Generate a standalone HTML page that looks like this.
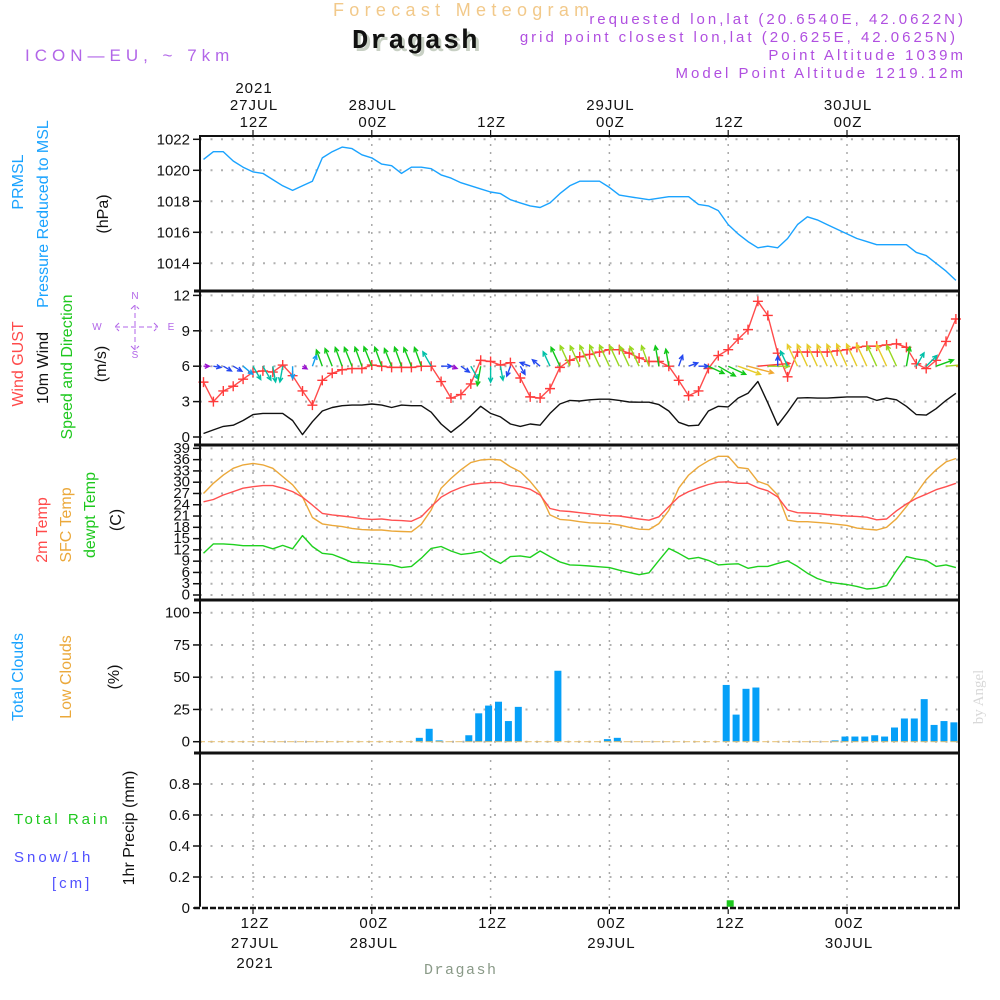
<!DOCTYPE html>
<html><head><meta charset="utf-8">
<style>
html,body{margin:0;padding:0;background:#fff;}
svg{display:block;font-family:"Liberation Sans",sans-serif;}
.tk{font-size:15px;fill:#111;}
</style></head>
<body>
<svg id="chart" width="1000" height="1000" viewBox="0 0 1000 1000" xmlns="http://www.w3.org/2000/svg">
<defs><clipPath id="plotclip"><rect x="200" y="292" width="759" height="152"/></clipPath></defs>
<rect x="0" y="0" width="1000" height="1000" fill="#fff"/>
<text x="333" y="16" font-size="18" fill="#f2c98a" letter-spacing="5.3">Forecast Meteogram</text>
<text x="355" y="51" font-family="Liberation Mono, monospace" font-weight="bold" font-size="27" fill="#c8d0c4" letter-spacing="2">Dragash</text>
<text x="352" y="48" font-family="Liberation Mono, monospace" font-weight="bold" font-size="27" fill="#111" letter-spacing="2">Dragash</text>
<text x="25" y="61" font-size="17" fill="#b266e8" letter-spacing="5">ICON—EU,  ~  7km</text>
<g font-size="15" fill="#b04fe0" text-anchor="end" letter-spacing="3">
<text x="966" y="24">requested lon,lat (20.6540E, 42.0622N)</text>
<text x="958" y="42">grid point closest lon,lat (20.625E, 42.0625N)</text>
<text x="966" y="60">Point Altitude 1039m</text>
<text x="966" y="78">Model Point Altitude 1219.12m</text>
</g>
<g id="grid"></g>
<g id="marks"></g>
<g id="arrows" clip-path="url(#plotclip)"></g>
<g id="frame"></g>
<g id="labels"></g>
</svg>
<script>
// ---- data (hourly from 07Z 27JUL; hour index = hours since 00Z 27JUL) ----
const startHour = 7;
const pressure = [1020.7,1021.2,1021.2,1020.6,1020.2,1019.9,1019.8,1019.4,1019.0,1018.7,1019.0,1019.3,
 1020.8,1021.2,1021.5,1021.4,1021.0,1020.8,1020.4,1020.3,1019.8,1020.2,1020.2,1020.1,
 1019.7,1019.5,1019.2,1019.0,1018.8,1018.6,1018.5,1018.1,1017.9,1017.7,1017.6,1017.9,
 1018.5,1019.0,1019.3,1019.3,1019.3,1018.9,1018.4,1018.3,1018.2,1018.1,1018.2,1018.3,
 1018.3,1018.3,1017.8,1017.7,1017.4,1016.5,1015.9,1015.4,1015.0,1015.1,1015.0,1015.6,
 1016.5,1017.0,1016.8,1016.5,1016.2,1015.9,1015.6,1015.4,1015.2,1015.2,1015.2,1015.2,
 1014.7,1014.5,1014.0,1013.5,1012.9];
const gust = [4.65,3.0,3.9,4.3,4.9,5.5,5.6,5.5,6.1,5.2,3.9,2.7,
 4.8,5.4,5.7,5.8,5.8,6.1,6.0,5.9,5.9,5.9,6.0,6.0,
 4.7,3.3,3.6,4.5,6.5,6.4,6.1,6.3,5.0,3.4,3.3,4.1,
 5.9,6.5,6.8,7.0,7.2,7.4,7.4,7.1,6.7,6.4,6.4,6.0,
 4.8,3.5,3.9,5.8,6.9,7.4,8.3,9.1,11.5,10.3,7.1,5.1,
 7.2,7.2,7.2,7.2,7.3,7.4,7.6,7.7,7.7,7.8,7.9,7.6,
 6.2,5.8,6.5,8.1,10.0];
const wind10m = [0.3,0.6,0.9,1.0,1.4,1.9,2.0,2.0,2.0,1.4,0.2,1.3,
 2.2,2.5,2.65,2.7,2.7,2.8,2.7,2.5,2.7,2.65,2.65,2.1,
 1.1,0.4,1.05,1.8,2.6,2.0,1.7,1.1,0.9,1.1,1.0,2.0,
 2.8,3.1,3.05,3.15,3.2,3.2,3.1,2.97,2.95,2.95,2.75,2.2,
 1.25,0.95,1.0,2.2,2.6,2.55,3.3,3.7,4.7,2.9,1.0,2.1,
 3.3,3.33,3.3,3.3,3.35,3.4,3.4,3.4,3.1,3.3,3.15,2.6,
 1.9,1.86,2.4,3.1,3.7];
const windDir = [0,-10,-30,-30,-40,-60,-60,-80,-100,-90,-30,70,
 110,112,110,112,110,112,110,112,110,112,110,120,
 0,-20,-35,-60,-100,-90,-80,-110,-60,160,140,115,
 115,115,115,115,115,115,115,115,115,110,100,100,
 70,20,0,-25,-30,-25,-20,-15,5,0,90,115,
 115,115,115,115,115,115,115,115,115,115,115,80,
 60,45,20,5,5];
const temp2m = [24.8,25.4,26.6,27.5,28.4,28.8,29.1,29.1,28.4,27.5,26.0,23.9,
 21.7,21.3,21.0,20.7,20.3,20.1,20.2,19.9,19.8,19.6,20.8,23.5,
 26.0,27.5,28.6,29.4,29.7,29.9,29.9,29.1,28.8,28.1,26.6,23.0,
 22.4,22.2,21.9,21.6,21.3,21.1,21.0,20.6,20.2,19.9,20.8,23.5,
 26.1,27.5,28.5,29.4,30.0,30.1,29.7,29.7,28.5,27.7,26.1,22.6,
 21.9,21.8,21.7,21.4,21.2,21.0,20.9,20.7,20.0,20.2,22.4,24.2,
 25.7,26.8,28.0,28.8,29.7];
const sfcTemp = [27.0,29.7,31.9,33.7,34.6,35.0,34.6,33.7,31.5,29.3,26.1,20.6,
 18.9,18.5,18.2,17.7,17.4,17.3,17.3,17.0,16.9,16.8,18.8,22.6,
 28.4,31.0,33.3,35.2,35.9,36.1,35.9,34.1,32.8,30.2,27.0,21.3,
 20.1,19.9,19.5,19.2,19.1,19.0,18.6,18.0,17.5,17.4,19.0,22.5,
 28.4,31.9,34.1,35.7,36.9,36.9,33.9,33.6,30.2,29.3,26.6,19.9,
 19.5,19.5,19.3,19.1,18.8,18.5,17.8,17.5,17.3,18.0,20.3,23.5,
 27.0,30.7,33.3,35.4,36.3];
const dewpoint = [11.1,13.6,13.6,13.4,13.1,13.1,13.1,12.3,13.2,12.3,15.8,12.9,
 11.1,10.8,9.8,8.7,8.6,8.4,8.2,8.0,7.3,7.6,9.8,12.4,
 12.9,11.7,10.8,11.1,11.6,9.8,8.4,10.2,10.4,10.0,11.7,10.2,
 8.8,8.0,7.9,7.7,7.5,7.3,6.6,6.0,5.4,5.9,9.2,12.4,
 11.1,9.6,10.0,9.2,8.0,8.2,8.3,7.1,7.6,7.6,8.4,9.1,
 7.6,5.8,4.4,3.5,3.1,2.8,2.3,1.6,1.8,2.5,6.5,10.2,
 9.6,9.2,7.6,8.0,7.3];
const totalClouds = [0,0,0,0,0,0,0,0,0,0,0,0,
 0,0,0,0,0,0,0,0,0,0,3,10,
 1,0,0,5,22,28,31,16,27,0,0,0,
 55,0,0,0,0,2,3,0,0,0,0,0,
 0,0,0,0,0,44,21,41,42,0,0,0,
 0,0,0,0,1,4,4,4,5,4,11,18,
 18,33,13,16,15];
const precip = [0,0,0,0,0,0,0,0,0,0,0,0,
 0,0,0,0,0,0,0,0,0,0,0,0,
 0,0,0,0,0,0,0,0.005,0.005,0,0,0,
 0,0,0,0,0,0,0,0,0,0,0,0,
 0,0,0,0,0,0.05,0,0,0,0,0,0,
 0,0,0,0,0,0,0,0,0,0,0,0,
 0,0,0,0,0];
const pressureTicks = [1022,1020,1018,1016,1014];
const windTicks = [0,3,6,9,12];
const tempTicks = [0,3,6,9,12,15,18,21,24,27,30,33,36,39];
const cloudTicks = [0,25,50,75,100];
const precipTicks = [0,0.2,0.4,0.6,0.8];
const timeTicks = [12,24,36,48,60,72];
const topDateLabels = ["2021\n27JUL\n12Z","28JUL\n00Z","12Z","29JUL\n00Z","12Z","30JUL\n00Z"];
const bottomDateLabels = ["12Z\n27JUL\n2021","00Z\n28JUL","12Z","00Z\n29JUL","12Z","00Z\n30JUL"];

// ---- axes ----
const XL=200, XR=959;
const xh = h => 253 + (h-12)*9.9;
const yp = p => 139.3 + (1022-p)*15.5;
const yw = v => 437 - v*11.8;
const yt = t => 595 - t*3.76;
const yc = c => 741.7 - c*1.29;
const yr = r => 908 - r*155;
const hourAt = i => startHour + i;

const NS="http://www.w3.org/2000/svg";
function mk(tag, attrs, parent){
  const e=document.createElementNS(NS,tag);
  for(const k in attrs) e.setAttribute(k, attrs[k]);
  parent.appendChild(e); return e;
}
const G=document.getElementById('grid'), M=document.getElementById('marks'),
      F=document.getElementById('frame'), L=document.getElementById('labels'),
      A=document.getElementById('arrows');

function hgrid(vals, fy, name){
  vals.forEach(v=>{
    const y=fy(v);
    const l=mk('line',{x1:XL,x2:XR,y1:y,y2:y,stroke:'#b0b0b0','stroke-width':2,'stroke-dasharray':'2,8.5'},G);
    
    
    const t=mk('line',{x1:193,x2:XL,y1:y,y2:y,stroke:'#111','stroke-width':1.5},F);
    
    
    const tx=mk('text',{x:190,y:y+5,'text-anchor':'end',class:'tk'},L);
    
    
    tx.textContent = (name==='precip' && v!==0) ? v.toFixed(1) : String(v);
    if(name==='temp'){ tx.setAttribute('font-size','13'); tx.setAttribute('y', y+4.5); }
  });
}
hgrid(pressureTicks, yp, 'pressure');
hgrid(windTicks, yw, 'wind');
hgrid(tempTicks, yt, 'temp');
hgrid(cloudTicks, yc, 'cloud');
hgrid(precipTicks, yr, 'precip');

timeTicks.forEach((h,i)=>{
  const x=xh(h);
  const l=mk('line',{x1:x,x2:x,y1:136,y2:908,stroke:'#a8a8a8','stroke-width':1.5,'stroke-dasharray':'2,6'},G);
  
  
  const t1=mk('line',{x1:x,x2:x,y1:130,y2:136,stroke:'#111','stroke-width':1.2},F);
  
  
  const t2=mk('line',{x1:x,x2:x,y1:908,y2:914,stroke:'#111','stroke-width':1.2},F);
  
  
  const top=topDateLabels[i].split('\n');
  top.forEach((s,j)=>{
    const tx=mk('text',{x:x+1,y:127-(top.length-1-j)*17,'text-anchor':'middle',class:'tk','font-size':'16','letter-spacing':'1'},L);
    
    
    tx.textContent=s;
  });
  bottomDateLabels[i].split('\n').forEach((s,j)=>{
    const tx=mk('text',{x:x+2,y:928+j*20,'text-anchor':'middle',class:'tk','font-size':'16','letter-spacing':'1'},L);
    
    
    tx.textContent=s;
  });
});

const fr=mk('rect',{x:XL,y:136,width:XR-XL,height:772,fill:'none',stroke:'#111','stroke-width':2},F);


[291,445,600,753].forEach(y=>{
  const l=mk('line',{x1:XL-6,x2:XR,y1:y,y2:y,stroke:'#111','stroke-width':3},F);
  
  
});
const bl=mk('line',{x1:XL-6,x2:XR,y1:908,y2:908,stroke:'#fff','stroke-width':2.5},F);


const bd=mk('line',{x1:XL-6,x2:XR+2,y1:908,y2:908,stroke:'#111','stroke-width':2.5,'stroke-dasharray':'6,2'},F);



function poly(arr, fy, color, name, w){
  const pts=arr.map((v,i)=>xh(hourAt(i)).toFixed(1)+','+fy(v).toFixed(1)).join(' ');
  const p=mk('polyline',{points:pts,fill:'none',stroke:color,'stroke-width':w||1.4,'stroke-linejoin':'round'},M);
  
  
}
poly(pressure, yp, '#1aa3ff', 'pressure-line');
poly(wind10m, yw, '#111', 'wind-10m-line');
function speedColor(s){
  if(s<0.6) return '#9a10d0';
  if(s<1.3) return '#2448f0';
  if(s<1.7) return '#12a0f0';
  if(s<2.15) return '#00c0a8';
  if(s<2.9) return '#10c818';
  if(s<3.25) return '#98d820';
  if(s<3.6) return '#e6cc2a';
  if(s<4.2) return '#f0a830';
  return '#ff3a3a';
}
wind10m.forEach((s,i)=>{
  const x0=xh(hourAt(i)), y0=yw(6);
  const len=4+6*s, a=windDir[i]*Math.PI/180;
  const x1=x0+len*Math.cos(a), y1=y0-len*Math.sin(a);
  const hx=Math.cos(a), hy=-Math.sin(a), hl=5;
  const l1x=x1-hl*(hx*Math.cos(0.45)-hy*Math.sin(0.45)), l1y=y1-hl*(hy*Math.cos(0.45)+hx*Math.sin(0.45));
  const l2x=x1-hl*(hx*Math.cos(-0.45)-hy*Math.sin(-0.45)), l2y=y1-hl*(hy*Math.cos(-0.45)+hx*Math.sin(-0.45));
  const ar=mk('path',{d:`M${x0},${y0}L${x1},${y1}M${l1x},${l1y}L${x1},${y1}L${l2x},${l2y}`,stroke:speedColor(s),'stroke-width':1.4,fill:'none'},A);
  
  
});
poly(gust, yw, '#ff4b4b', 'wind-gust-line');
gust.forEach((v,i)=>{
  const x=xh(hourAt(i)), y=yw(v);
  const c=mk('path',{d:`M${x-5},${y}H${x+5}M${x},${y-5}V${y+5}`,stroke:'#ff3b3b','stroke-width':1.4,fill:'none'},M);
  
  
});
poly(sfcTemp, yt, '#eba83a', 'sfc-temp-line');
poly(temp2m, yt, '#ff5050', 'temp-2m-line');
poly(dewpoint, yt, '#1ed01e', 'dewpoint-line');
totalClouds.forEach((c,i)=>{
  const x=xh(hourAt(i))-2;
  if(c>0){
    const b=mk('rect',{x:x-3.5,y:yc(c),width:7,height:yc(0)-yc(c),fill:'#06a0f8'},M);
    
    
  }
  const lb=mk('line',{x1:x-3.5,x2:x+3.5,y1:yc(0),y2:yc(0),stroke:'#e8c070','stroke-width':1},M);
  
  
});
precip.forEach((r,i)=>{
  if(r<=0) return;
  const x=xh(hourAt(i))+2;
  const b=mk('rect',{x:x-3.5,y:yr(r),width:7,height:Math.max(1,yr(0)-yr(r)),fill:'#1ec81e'},M);
  
  
});

function vtext(x,y,txt,color,name,size){
  const t=mk('text',{x:0,y:0,transform:`translate(${x},${y}) rotate(-90)`,'text-anchor':'middle','font-size':size||16,fill:color},L);
  
  
  t.textContent=txt; return t;
}
vtext(23,182,'PRMSL','#1aa3ff','prmsl-label');
vtext(48,214,'Pressure  Reduced  to  MSL','#1aa3ff','pressure-label');
vtext(108,214,'(hPa)','#111','hpa-label');
vtext(23,364,'Wind GUST','#ff4b4b','gust-label');
vtext(48,368,'10m Wind','#111','wind-10m-label');
vtext(72,367,'Speed and Direction','#1ec81e','speed-direction-label');
vtext(106,364,'(m/s)','#111','ms-label');
vtext(47,530,'2m Temp','#ff4b4b','temp-2m-label');
vtext(71,525,'SFC Temp','#eba83a','sfc-temp-label');
vtext(95,515,'dewpt Temp','#1ec81e','dewpoint-label');
vtext(121,520,'(C)','#111','celsius-label');
vtext(23,677,'Total Clouds','#1aa3ff','total-clouds-label');
vtext(71,677,'Low Clouds','#eba83a','low-clouds-label');
vtext(119,677,'(%)','#111','percent-label');
vtext(134,828,'1hr Precip (mm)','#111','precip-unit-label');
const ba=vtext(983,697,'by Angel','#d8d8d8','credit-label',15);
ba.setAttribute('font-family','Liberation Serif, serif');

function htext(x,y,txt,color,name,size,extra){
  const t=mk('text',Object.assign({x:x,y:y,'font-size':size||15,fill:color,'letter-spacing':'3'},extra||{}),L);
  
  
  t.textContent=txt; return t;
}
htext(14,824,'Total   Rain','#1ec81e','total-rain-label',15,{'xml:space':'preserve'});
htext(14,862,'Snow/1h','#5050ff','snow-label',15);
htext(52,888,'[cm]','#5050ff','snow-unit-label',15);
htext(424,974,'Dragash','#8a9a88','footer-location',15,{'font-family':'Liberation Mono, monospace','letter-spacing':'1.5'});

const cg=mk('g',{fill:'#b266e8','font-size':'10','text-anchor':'middle'},L);


[['N',135,299],['S',135,358],['W',97,330],['E',171,330]].forEach(a=>{
  const t=mk('text',{x:a[1],y:a[2]},cg); t.textContent=a[0];
  
  
});
const cp=mk('path',{d:'M115,327H158M135,305V350M119,323L115,327L119,331M154,323L158,327L154,331M131,309L135,305L139,309M131,346L135,350L139,346',stroke:'#b266e8','stroke-width':1,fill:'none','stroke-dasharray':'5,3'},L);


</script>
</body></html>
